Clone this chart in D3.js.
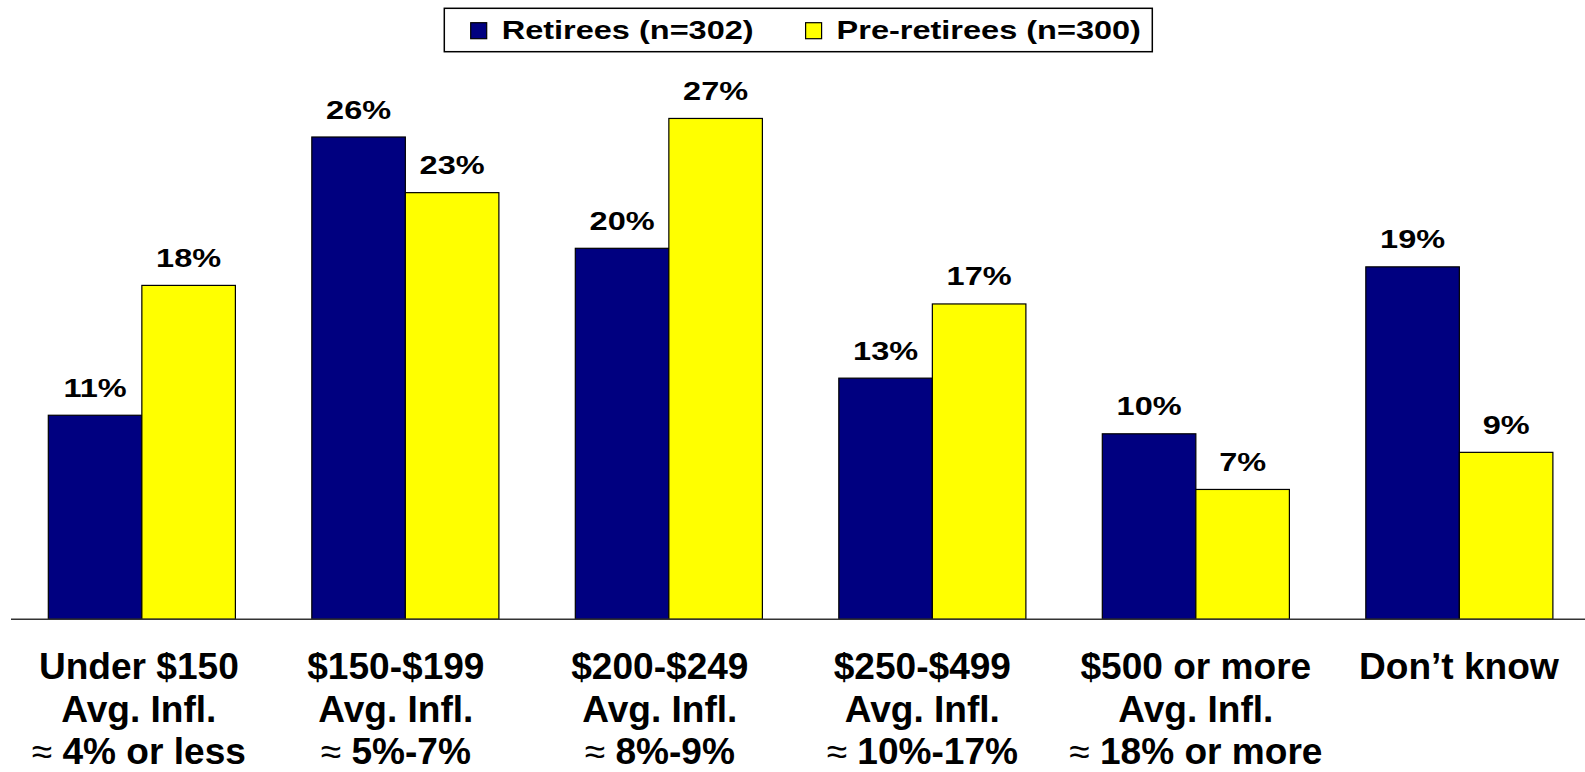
<!DOCTYPE html>
<html>
<head>
<meta charset="utf-8">
<script src="https://cdn.jsdelivr.net/npm/d3@7"></script>
<style>
  html, body { margin: 0; padding: 0; background: #fff; }
  svg { display: block; }
  text { font-family: Arial, "Liberation Sans", sans-serif; font-weight: bold; fill: #000; }
</style>
</head>
<body>
<script>
// ---- Data ----
const categories = ["Under $150", "$150-$199", "$200-$249", "$250-$499", "$500 or more", "Don\u2019t know"];
const categoryLines = [
  ["Under $150", "Avg. Infl.", "\u2248 4% or less"],
  ["$150-$199", "Avg. Infl.", "\u2248 5%-7%"],
  ["$200-$249", "Avg. Infl.", "\u2248 8%-9%"],
  ["$250-$499", "Avg. Infl.", "\u2248 10%-17%"],
  ["$500 or more", "Avg. Infl.", "\u2248 18% or more"],
  ["Don\u2019t know"]
];
const seriesNames = ["Retirees (n=302)", "Pre-retirees (n=300)"];
const retirees = [11, 26, 20, 13, 10, 19];
const preRetirees = [18, 23, 27, 17, 7, 9];
const seriesColors = ["#000080", "#FFFF00"];

// ---- Layout ----
const W = 1585, H = 772;
const baseY = 619.3;
const pxPerPct = 18.55;
const labelNudge = [-3, -9.5, -9, -10, 0, -0.5]; // label text-box nudges (px)

const svg = d3.select("body").append("svg").attr("width", W).attr("height", H);

const x0 = d3.scaleBand().domain(categories).range([10.1, 1591.1]).paddingInner(0.29).paddingOuter(0.145);
const x1 = d3.scaleBand().domain(seriesNames).range([0, x0.bandwidth()]).padding(0);
const y = d3.scaleLinear().domain([0, 30]).range([baseY, baseY - 30 * pxPerPct]);
const color = d3.scaleOrdinal().domain(seriesNames).range(seriesColors);

const rows = categories.map((c, i) => ({ cat: c, vals: [
  { s: seriesNames[0], v: retirees[i] },
  { s: seriesNames[1], v: preRetirees[i] }
]}));

// Bars
const groups = svg.append("g").selectAll("g").data(rows).join("g")
  .attr("transform", d => `translate(${x0(d.cat)},0)`);

groups.selectAll("rect").data(d => d.vals).join("rect")
  .attr("x", d => x1(d.s))
  .attr("y", d => y(d.v))
  .attr("width", x1.bandwidth())
  .attr("height", d => y(0) - y(d.v))
  .attr("fill", d => color(d.s))
  .attr("stroke", "#000")
  .attr("stroke-width", 1.2);

// Value labels
groups.selectAll("g.lbl").data(d => d.vals).join("g")
  .attr("class", "lbl")
  .attr("transform", d => `translate(${x1(d.s) + x1.bandwidth() / 2},${y(d.v) - 18.5})`)
  .append("text")
  .attr("text-anchor", "middle")
  .attr("font-size", 26)
  .attr("transform", "scale(1.25,1)")
  .text(d => d.v + "%");

// Baseline
svg.append("line")
  .attr("x1", 11).attr("x2", W)
  .attr("y1", y(0)).attr("y2", y(0))
  .attr("stroke", "#333").attr("stroke-width", 1.5);

// Category labels
const catG = svg.append("g").selectAll("g").data(categories).join("g")
  .attr("transform", (c, i) => `translate(${x0(c) + x0.bandwidth() / 2 + labelNudge[i]},0)`);
catG.each(function(c, i) {
  const g = d3.select(this);
  categoryLines[i].forEach((line, j) => {
    const t = g.append("g").attr("transform", `translate(0,${679 + j * 42.5})`)
      .append("text")
      .attr("text-anchor", "middle")
      .attr("font-size", 36)
      .attr("transform", "scale(1.03,1)");
    if (line.startsWith("\u2248")) {
      t.append("tspan").attr("font-weight", "normal").text("\u2248");
      t.append("tspan").text(line.slice(1));
    } else {
      t.text(line);
    }
  });
});

// Legend
const leg = svg.append("g");
leg.append("rect")
  .attr("x", 444.3).attr("y", 8.3).attr("width", 708).attr("height", 43.4)
  .attr("fill", "#fff").attr("stroke", "#000").attr("stroke-width", 1.5);
const legX = [470.7, 805.6];
seriesNames.forEach((s, i) => {
  leg.append("rect")
    .attr("x", legX[i]).attr("y", 22.7).attr("width", 16).attr("height", 16)
    .attr("fill", color(s)).attr("stroke", "#000").attr("stroke-width", 1.2);
  leg.append("g").attr("transform", `translate(${legX[i] + 31},39)`)
    .append("text")
    .attr("font-size", 26)
    .attr("transform", "scale(1.25,1)")
    .text(s);
});
</script>
</body>
</html>
